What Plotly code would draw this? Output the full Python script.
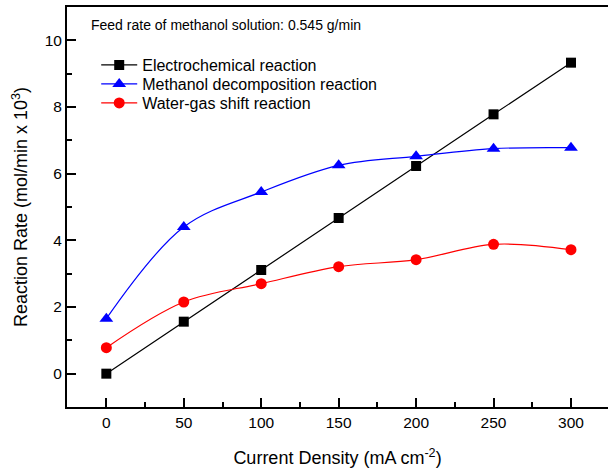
import plotly.graph_objects as go

current_density = [0, 50, 100, 150, 200, 250, 300]
electrochemical = [0.0, 1.56, 3.11, 4.67, 6.23, 7.78, 9.33]
methanol_decomp = [1.65, 4.40, 5.45, 6.25, 6.52, 6.75, 6.78]
water_gas_shift = [0.78, 2.15, 2.70, 3.21, 3.42, 3.88, 3.72]

names = ["Electrochemical reaction", "Methanol decomposition reaction", "Water-gas shift reaction"]
font_family = "Liberation Sans, Arial, sans-serif"

fig = go.Figure()
fig.add_trace(go.Scatter(
    x=current_density, y=electrochemical, name=names[0], mode="lines+markers",
    line=dict(color="black", width=1.2),
    marker=dict(symbol="square", size=10, color="black"), legend="legend"))
fig.add_trace(go.Scatter(
    x=current_density, y=methanol_decomp, name=names[1], mode="lines+markers",
    line=dict(color="blue", width=1.2, shape="spline", smoothing=1.0),
    marker=dict(symbol="triangle-up", size=12, color="blue"), legend="legend2"))
fig.add_trace(go.Scatter(
    x=current_density, y=water_gas_shift, name=names[2], mode="lines+markers",
    line=dict(color="red", width=1.2, shape="spline", smoothing=1.0),
    marker=dict(symbol="circle", size=11, color="red"), legend="legend3"))

axis_common = dict(
    showgrid=False, zeroline=False, showline=True, linecolor="black", linewidth=2,
    ticks="inside", ticklen=9, tickwidth=1.5, tickcolor="black",
    tickfont=dict(family=font_family, size=15.5, color="black"),
    minor=dict(ticks="inside", ticklen=5, tickwidth=1.5, tickcolor="black"),
    automargin=False,
)

fig.update_xaxes(
    range=[-25.4, 323.9], tickvals=[0, 50, 100, 150, 200, 250, 300],
    minor_tickvals=[-25, 25, 75, 125, 175, 225, 275, 325],
    mirror=True,
    title=dict(text="Current Density (mA cm<sup>-2</sup>)",
               font=dict(family=font_family, size=18, color="black"), standoff=22),
    **axis_common)
fig.update_yaxes(
    range=[-1, 11], tickvals=[0, 2, 4, 6, 8, 10],
    minor_tickvals=[-1, 1, 3, 5, 7, 9, 11],
    mirror=False,
    title=dict(text="Reaction Rate (mol/min x 10<sup>3</sup>)",
               font=dict(family=font_family, size=18, color="black"), standoff=12),
    **axis_common)

fig.add_annotation(
    text="Feed rate of methanol solution: 0.545 g/min", xref="paper", yref="paper",
    x=0.0405, y=0.955, xanchor="left", yanchor="middle", showarrow=False,
    font=dict(family=font_family, size=14, color="black"))

legend_common = dict(x=0.054, xanchor="left", yanchor="middle",
                     bgcolor="rgba(0,0,0,0)",
                     font=dict(family=font_family, size=16, color="black"),
                     itemwidth=36)

fig.update_layout(
    width=608, height=471,
    margin=dict(l=67, r=0, t=7, b=64),
    paper_bgcolor="white", plot_bgcolor="white",
    font=dict(family=font_family, color="black"),
    legend=dict(y=0.855, **legend_common),
    legend2=dict(y=0.8075, **legend_common),
    legend3=dict(y=0.76, **legend_common),
    showlegend=True,
)

fig.write_html("out.html", config={"displayModeBar": False},
               post_script="document.body.style.margin='0px';")
